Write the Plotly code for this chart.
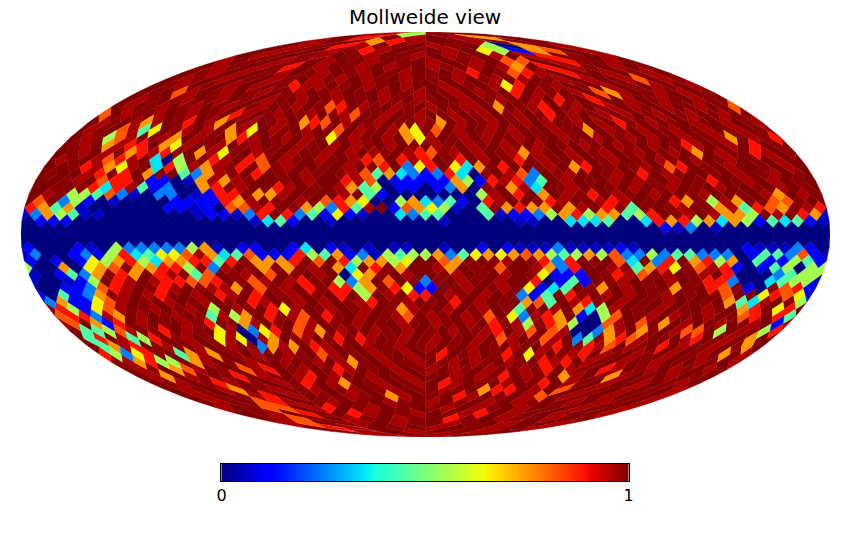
import numpy as np
import plotly.graph_objects as go

# Values, one code per HEALPix pixel (nside 16), left to right.
code_values = {"c": 1.0, "b": 0.99, "a": 0.965, "9": 0.89, "8": 0.82, "7": 0.75, "6": 0.65,
               "5": 0.55, "4": 0.45, "3": 0.35, "2": 0.25, "1": 0.12, "d": 0.06, "0": 0.0}

north_cap_rings = [
    "a5bc",
    "c9baca7c",
    "acb79a cbacbc",
    "cab9acbc abc507ca",
    "cabcab9acb cac65178ca",
    "cabcbacb acbacabc aca9cbca",
    "acbcabcacbacbc acbac88ca9bcac",
    "cabcab9c acbacabc abcaca7c 9cabcacb",
    "cbacacba cbacbacb acbca9cb 89ac9bca cbac",
    "cabcacbc abcabaca bcacbcac bacacbac acba8cab",
    "cbacbcac acb9aacb cabcacca cbca69cb acbcacbc abca",
    "cbc8acba cbacbacb acbcacba cbacabc9 cabcac87 acbacacb",
    "cabcbacb acbcabca cbacbcab cabcbacb abcac9bc 9bcacbac cabc",
    "cacbacba cbacbacb acb89cab cabcacba ac7cba9c bacbacab cacbacb8",
    "8cabcacb acbc9acb acbacba8 cbacbacb acbacbac b9cacbac acbacbac bacb",
]

north_belt_rings = [
    "cabca7ac b9ca7cba cbac798c acbacbca b7cacbac bacacbac ac9bcacb cabcacba",
    "cabc8a46 cbacab7a 6cabcacb 8cabca76 b8cacbac acbcabc7 cabcacba cbacbacb",
    "cab58acb a7cabc79 acbacac6 cabcac76 acbacacb acbcabca cbacacba cba7cab9",
    "cbac7a99 c76acbac bacbcabc acabcacb cabcabca bcacbcab cabcacb9 acbac9cb",
    "cbacab79 a9bc7a6b cabcacba cacabca9 8bacacba 7abcacba cbacbac7 cabc9acb",
    "cabca89a c305cb9a c98cabca bca98c9a 9cb9cacb 9cabcacb acbcabca cbacbcac",
    "ccb9a76a b395a7ab 9c8baccb cacb9c26 9c637c9c cbac79cb cbac89cb caccbcac",
    "cbcca9b9 c7bc427a bc9cbcab cba84732 12930bca 82cbaccb ac9cabcc bcacbacb",
    "ccbac899 c110d7a7 abccbcac c9a80111 11751 9a9 24cacbca cabcacb9 cbacacbc",
    "ccbcb939 a4120079 bacc9acb ca745011 01270bc7 a3cbaccb cacbacbc accbcacb",
    "cab55482 d0220d19 9b77acbc cac41000 00005ac9 c7cab9ca bcaccbac cbca7cab",
    "c8b2510d 00001111 97acbcac 89760057 324109ac cb9acba9 acbc97b5 a7bc88bc",
    "9747d000 00011d10 88a9cb75 294ac187 65d04b79 77b7ac9b 4bcbacb7 a49 87ba9",
    "d2754dd0 000000d1 1d29b924 161d0032 440004d1 12579577 459cbaca 775cab97",
    "01110000 00000000 00d34100 d0000000 0d00000d d0033340 03979573 7514341d",
    "00000000 00000000 00000000 00000000 00000000 00000000 0001d20d 00000000",
]

equator_ring = ["00000000 00000000 00000000 00000000 00000000 00000000 00000000 00000000"]

south_belt_rings = [
    "00000000 00000000 00000000 00000000 00000000 00000000 00000000 00000000",
    "10001d05 2222257d 01100130 1d0d0dd0 0d00101d dd2dddd1 d0000000 01ddd210",
    "d2001215 93466 8a7 34811195 47 12d545 57246767 87545758 22524422 20144281",
    "10101657 95377994 9b7779c8 c95775 6c c87bcbac b929cbc8 3c29c795 70411541",
    "50070678 b77995b2 acb7b7ba c73c9b7c ca7cbb8c ca729cca b4796b8a 9101 4505",
    "d0142 7b9 7c9ab48c bac8cbca c067bcac cbacbcac b6111cb9 a8bacbac 90002455",
    "d00d15c9 aca99889 cb8aca9b c527c8cb 2bcabcac c90141cb acbcacb9 92003455",
    "00112 89a cb9acbaa 7c8bac9b 9957b961 1cbacbac 6134cb7c acbc7bc9 8b10b891",
    "10412 7ba ca9bca c9 ac9cbacb c9c5cac9 9cabcacb 214c9bca cacbacbc b8cc6986",
    "271168ac bcacbacb c9acbaca cba9cbac bc9cacbc 784ca9bc acbcaccb c743acb5",
    "c95168ac bacbac5c abc96acb acbacb7a bcacbacb 4bcac735 acbcacbc abc79c69",
    "89 92a7ca cbacb4a5 7c9ba8c9 bcacba8c abcab8c6 2a97c105 8cbacabc acb89c94",
    "a8c719ca cbcab9cb 7acbc8ac bcacbcab cabcac9b a5b97500 8ac8b7ca cbacbac1",
    "c4458acb 9cabc6a0 269c8a7c abcabcac bcacba9c a8c8a002 7ac7bca8 8c5cab59",
    "c49ca459 cbacb6a6 0a7cbacb 9c9acbac bacbcac8 acb8ac24 b798acbc a9cbac7c",
    "c47a9cba cbacbacb 27a7c9ac bcacbacb acbcacbc abca9cb9 a8cabc9c acbacb7c",
]

south_cap_rings = [
    "9526 9bc4 7a7c bcab cabc 8acb cabc acb9 cbac b9c6 acba 9cab cabc acba c7ca",
    "ba7955c7 acbcabca cbaca7bc acbacbac abcabc9a 9cabcacb acbcabca",
    "cabc78ac bc8a9cba cb9acbca cbacabca bcab9cab c9acbaca bcac",
    "ca7cabcb 9cabca9c abcacbac bcacab9c abc7acb7 acbcacbc",
    "cbacb9ac bcab9ca7 cbacbac9 acbcacb9 cabcacba cbac",
    "cabca7cb acbacbac bacbcabc 799cac8c abcacbca",
    "cabcba9c acbcabc7 acbc9acb ca8cabca cbca",
    "cabc89ac bacbcabc acbcacab cbacabca",
    "acb88ca9 cbacbcba cabcacbc acba",
    "cbac9bc9 acbacba9 cabcacba",
    "ca8bcabcab c9bcabcacb",
    "a8cbacab cabcacba",
    "c9acbc acbaca",
    "bacacbac",
    "abac",
]

tick_labels = ["0", "1"]
title_text = "Mollweide view"
nside = 16


def ring_code(text, count):
    cleaned = "".join(text.split())
    return (cleaned + "c" * count)[:count]


def jet(v):
    r = np.interp(v, [0, .35, .66, .89, 1], [0, 0, 1, 1, .5])
    g = np.interp(v, [0, .125, .375, .64, .91, 1], [0, 0, 1, 1, 0, 0])
    b = np.interp(v, [0, .11, .34, .65, 1], [.5, 1, 1, 0, 0])
    return f"rgb({int(r * 255)},{int(g * 255)},{int(b * 255)})"


def mollweide(phi, z):
    target = np.pi * z
    lo, hi = -np.pi / 2 * np.ones_like(z), np.pi / 2 * np.ones_like(z)
    for _ in range(40):
        mid = (lo + hi) / 2
        low = 2 * mid + np.sin(2 * mid) < target
        lo, hi = np.where(low, mid, lo), np.where(low, hi, mid)
    th = (lo + hi) / 2
    return phi / np.pi * np.cos(th), np.sin(th)


h = np.pi / (4 * nside)
steps = np.linspace(0, 1, 4)[:-1]
unit_x = np.r_[steps, 1 - steps, -steps, steps - 1, 0.0]
unit_y = np.r_[1 - steps, -steps, steps - 1, steps, 1.0]


def cell(xs, ys, xq, clamp=None):
    px, py = xs + h * unit_x, ys + h * unit_y
    if clamp is not None:
        px = np.clip(px, *clamp)
    phi, z = px.copy(), 8 * py / (3 * np.pi)
    polar = np.abs(py) > np.pi / 4 + 1e-12
    if polar.any():
        sg = 2 - 4 * np.abs(py[polar]) / np.pi
        xt = px[polar] - xq
        safe = np.maximum(sg, 1e-9)
        pt = np.clip(np.pi / 4 + (xt - np.pi / 4) / safe, 0, np.pi / 2)
        phi[polar] = xq + pt
        z[polar] = np.sign(py[polar]) * (1 - sg ** 2 / 3)
    return mollweide(phi, np.clip(z, -1, 1))


groups = {k: ([], []) for k in code_values}


def add(code, xy):
    groups[code][0].extend(list(xy[0]) + [None])
    groups[code][1].extend(list(xy[1]) + [None])


def add_cap(rings, sign):
    for r, text in enumerate(rings, start=1):
        codes = ring_code(text, 4 * r)
        sigma = r / nside
        for i, c in enumerate(codes):
            q, j = i // r, i % r
            pt = (j + .5) * np.pi / (2 * r)
            xq = -np.pi + q * np.pi / 2
            xs = xq + np.pi / 4 + (pt - np.pi / 4) * sigma
            add(c, cell(xs, sign * np.pi / 4 * (2 - sigma), xq))


add_cap(north_cap_rings, 1)
add_cap(south_cap_rings[::-1], -1)

belt = north_belt_rings + equator_ring + south_belt_rings
for row, text in enumerate(belt):
    m = nside - row
    codes = ring_code(text, 4 * nside)
    ys = np.pi * m / 64
    for i, c in enumerate(codes):
        if m % 2 == 0:
            xs = -np.pi + (i + .5) * np.pi / 32
            q = min(int((xs + np.pi) // (np.pi / 2)), 3)
            add(c, cell(xs, ys, -np.pi + q * np.pi / 2))
        elif i == 0:
            add(c, cell(-np.pi, ys, -np.pi, (-np.pi, np.pi)))
            add(c, cell(np.pi, ys, np.pi / 2, (-np.pi, np.pi)))
        else:
            xs = -np.pi + i * np.pi / 32
            q = min(int((xs + np.pi) // (np.pi / 2)), 3)
            add(c, cell(xs, ys, -np.pi + q * np.pi / 2))

fig = go.Figure()
for code, (gx, gy) in groups.items():
    if gx:
        col = jet(code_values[code])
        fig.add_trace(go.Scatter(x=gx, y=gy, mode="lines", fill="toself", fillcolor=col,
                                 line=dict(color=col, width=0.4), hoverinfo="skip",
                                 showlegend=False))

bar = np.linspace(0, 1, 256)
scale = [[float(v), jet(v)] for v in bar]
fig.add_trace(go.Heatmap(x=bar, y=[0, 1], z=[bar, bar], colorscale=scale, zmin=0, zmax=1,
                         showscale=False, xaxis="x2", yaxis="y2", hoverinfo="skip"))

W, H = 850, 540
AREA_LEFT, AREA_W = 4, 842  # the plotting area as the browser lays it out


def fx(px):
    return (px - AREA_LEFT) / AREA_W


fig.update_layout(
    width=W, height=H, margin=dict(l=0, r=0, t=0, b=0),
    paper_bgcolor="white", plot_bgcolor="white", showlegend=False,
    font=dict(family="DejaVu Sans", color="black"),
    title=dict(text=title_text, x=425 / W, xanchor="center",
               y=1 - 17 / H, yanchor="middle",
               font=dict(family="DejaVu Sans", size=20, color="black")),
    xaxis=dict(domain=[fx(20), fx(831)], range=[-1, 1], visible=False),
    yaxis=dict(domain=[1 - 437 / H, 1 - 32 / H], range=[-1, 1], visible=False),
    xaxis2=dict(domain=[fx(221), fx(629)], range=[0, 1], anchor="y2", tickvals=[0, 1],
                ticktext=tick_labels, ticks="", showgrid=False, zeroline=False,
                showline=True, linecolor="black", linewidth=1, mirror=True,
                tickfont=dict(family="DejaVu Sans", size=16, color="black")),
    yaxis2=dict(domain=[1 - 481 / H, 1 - 464 / H], range=[0, 1], anchor="x2",
                showticklabels=False, ticks="", showgrid=False, zeroline=False,
                showline=True, linecolor="black", linewidth=1, mirror=True),
)
fig.write_html("out.html", config={"displayModeBar": False},
               post_script="document.body.style.margin='0';"
                           "document.documentElement.style.overflow='hidden';")
